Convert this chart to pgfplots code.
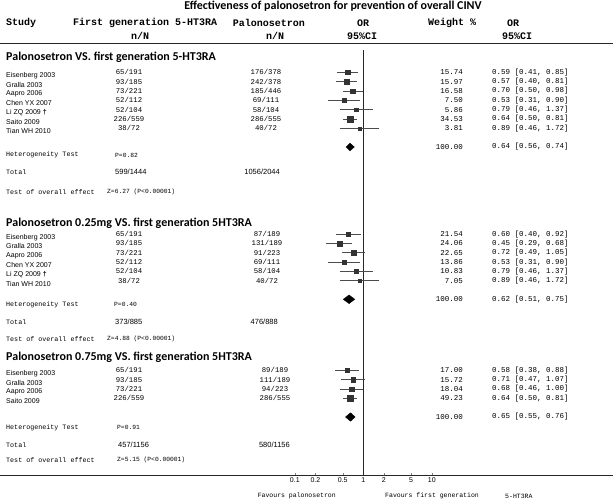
\documentclass[border=0pt]{standalone}
\usepackage{fontspec}
\setmainfont{Liberation Serif}
\setsansfont{Liberation Sans}
\setmonofont{Liberation Mono}
\newfontfamily\hdfont{Carlito}
\usepackage{graphicx}
\usepackage{pgfplots}
\pgfplotsset{compat=1.18}
\usepackage{pgfplotstable}

\pgfplotstableread{
y or lo hi w
72.3 0.59 0.41 0.85 15.74
81.7 0.57 0.40 0.81 15.97
91.0 0.70 0.50 0.98 16.58
100.3 0.53 0.31 0.90 7.50
109.7 0.79 0.46 1.37 5.86
119.0 0.64 0.50 0.81 34.53
128.3 0.89 0.46 1.72 3.81
}\secA
\pgfplotstableread{
y or lo hi w
234.3 0.60 0.40 0.92 21.54
243.3 0.45 0.29 0.68 24.06
252.7 0.72 0.49 1.05 22.65
262.3 0.53 0.31 0.90 13.86
271.3 0.79 0.46 1.37 10.83
280.7 0.89 0.46 1.72 7.05
}\secB
\pgfplotstableread{
y or lo hi w
370.3 0.58 0.38 0.88 17.00
379.7 0.71 0.47 1.07 15.72
389.0 0.68 0.46 1.00 18.04
398.3 0.64 0.50 0.81 49.23
}\secC

\pgfplotsset{
  study/.style={
    scatter, only marks, mark=square*,
    scatter/use mapped color={draw=black!80,fill=black!80},
    visualization depends on={\thisrow{w} \as \wt},
    scatter/@pre marker code/.append style={/tikz/mark size={1.0+0.3*sqrt(\wt)}},
    error bars/.cd, x dir=both, x explicit, error mark=none,
    error bar style={black!70, line width=0.7pt},
  },
}
\newcommand{\studyplot}[1]{%
  \addplot[study] table[x=or, y=y,
    x error plus expr=\thisrow{hi}-\thisrow{or},
    x error minus expr=\thisrow{or}-\thisrow{lo}] {#1};}

\begin{document}
\begin{tikzpicture}
\useasboundingbox (0,0) rectangle (613pt,502pt);
\begin{axis}[
  at={(0,27pt)}, anchor=south west,
  scale only axis, width=613pt, height=430pt,
  xmode=log, xmin=4.97e-6, xmax=4419,
  ymin=45, ymax=475, y dir=reverse,
  axis x line*=bottom, axis y line=none,
  x axis line style={-, line width=0.8pt, black!85},
  xtick={0.1,0.2,0.5,1,2,5,10},
  xticklabels={0.1,0.2,0.5,1,2,5,10},
  minor xtick={}, 
  tick align=inside, major tick length=2pt,
  xticklabel style={font=\sffamily\fontsize{7}{8}\selectfont, inner sep=1pt, yshift=-1.5pt},
  clip=false,
]
\addplot[black!85, line width=0.8pt] coordinates {(1,50) (1,475)};
\studyplot{\secA}
\studyplot{\secB}
\studyplot{\secC}
\addplot[fill=black, draw=black] coordinates {(0.56,147) (0.64,143.2) (0.74,147) (0.64,150.8)} -- cycle;
\addplot[fill=black, draw=black] coordinates {(0.51,299.3) (0.62,295) (0.75,299.3) (0.62,303.6)} -- cycle;
\addplot[fill=black, draw=black] coordinates {(0.55,417) (0.65,412.8) (0.76,417) (0.65,421.2)} -- cycle;
\end{axis}

\begin{scope}[x=1pt, y=-1pt, yshift=502pt,
  every node/.style={inner sep=0pt},
  ttl/.style={font=\hdfont\bfseries\fontsize{12}{13}\selectfont},
  sec/.style={font=\hdfont\bfseries\fontsize{12}{14}\selectfont, anchor=west},
  hd/.style={font=\ttfamily\bfseries\fontsize{10}{11}\selectfont},
  nm/.style={font=\sffamily\fontsize{7}{8}\selectfont, anchor=west},
  nn/.style={font=\ttfamily\fontsize{7.3}{8}\selectfont},
  wt/.style={font=\ttfamily\fontsize{7.5}{8}\selectfont, anchor=east},
  ci/.style={font=\ttfamily\fontsize{7.5}{8}\selectfont, anchor=west},
  lb/.style={font=\ttfamily\fontsize{6.7}{8}\selectfont, anchor=west},
  tt/.style={font=\sffamily\fontsize{7.5}{8}\selectfont},
  zz/.style={font=\ttfamily\fontsize{6.3}{8}\selectfont, anchor=west},
  fv/.style={font=\ttfamily\fontsize{6.5}{8}\selectfont},
]
% title
\node[ttl] at (333,6) {Effectiveness of palonosetron for prevention of overall CINV};
% header
\node[hd, anchor=west] at (6,23) {Study};
\node[hd, anchor=west] at (73,23) {First generation 5-HT3RA};
\node[hd] at (140,36) {n/N};
\node[hd] at (269,23) {Palonosetron};
\node[hd] at (275,36) {n/N};
\node[hd] at (363,23) {OR};
\node[hd] at (362,36) {95\%CI};
\node[hd, anchor=west] at (428,23) {Weight \%};
\node[hd] at (513,23) {OR};
\node[hd] at (517,36) {95\%CI};
\draw[line width=0.8pt, black!85] (0,43.3) -- (613,43.3);

% ---- section 1
\node[sec] at (6,57) {Palonosetron VS. first generation 5-HT3RA};
\foreach \yy/\nm/\a/\b/\w/\c in {
 72.3/Eisenberg 2003/65\slash191/176\slash378/15.74/{0.59 [0.41, 0.85]},
 81.7/Gralla 2003/93\slash185/242\slash378/15.97/{0.57 [0.40, 0.81]},
 91.0/Aapro 2006/73\slash221/185\slash446/16.58/{0.70 [0.50, 0.98]},
 100.3/Chen YX 2007/52\slash112/69\slash111/7.50/{0.53 [0.31, 0.90]},
 109.7/Li ZQ 2009 {\bfseries †}/52\slash104/58\slash104/5.86/{0.79 [0.46, 1.37]},
 119.0/Saito 2009/226\slash559/286\slash555/34.53/{0.64 [0.50, 0.81]},
 128.3/Tian WH 2010/38\slash72/40\slash72/3.81/{0.89 [0.46, 1.72]}}{
 \node[nm] at (6,\yy+3) {\nm};
 \node[nn] at (129,\yy) {\a};
 \node[nn] at (266,\yy) {\b};
 \node[wt] at (463,\yy) {\w};
 \node[ci] at (492,\yy) {\c};
}
\node[wt] at (463,147) {100.00};
\node[ci] at (492,147) {0.64 [0.56, 0.74]};
\node[lb] at (6,155) {Heterogeneity Test};
\node[zz] at (115,155) {P=0.82};
\node[lb] at (6,172) {Total};
\node[tt, anchor=west] at (115,172) {599/1444};
\node[tt, anchor=east] at (280,172) {1056/2044};
\node[lb] at (6,192) {Test of overall effect};
\node[zz] at (107,192) {Z=6.27 (P<0.00001)};

% ---- section 2
\node[sec] at (6,223) {Palonosetron 0.25mg VS. first generation 5HT3RA};
\foreach \yy/\nm/\a/\b/\w/\c in {
 234.3/Eisenberg 2003/65\slash191/87\slash189/21.54/{0.60 [0.40, 0.92]},
 243.3/Gralla 2003/93\slash185/131\slash189/24.06/{0.45 [0.29, 0.68]},
 252.7/Aapro 2006/73\slash221/91\slash223/22.65/{0.72 [0.49, 1.05]},
 262.3/Chen YX 2007/52\slash112/69\slash111/13.86/{0.53 [0.31, 0.90]},
 271.3/Li ZQ 2009 {\bfseries †}/52\slash104/58\slash104/10.83/{0.79 [0.46, 1.37]},
 280.7/Tian WH 2010/38\slash72/40\slash72/7.05/{0.89 [0.46, 1.72]}}{
 \node[nm] at (6,\yy+3) {\nm};
 \node[nn] at (129,\yy) {\a};
 \node[nn] at (267,\yy) {\b};
 \node[wt] at (463,\yy) {\w};
 \node[ci] at (492,\yy) {\c};
}
\node[wt] at (463,299.3) {100.00};
\node[ci] at (492,299.3) {0.62 [0.51, 0.75]};
\node[lb] at (6,304.3) {Heterogeneity Test};
\node[zz] at (114,304.3) {P=0.40};
\node[lb] at (6,321.7) {Total};
\node[tt, anchor=west] at (115,321.7) {373/885};
\node[tt, anchor=east] at (278,321.7) {476/888};
\node[lb] at (6,339.3) {Test of overall effect};
\node[zz] at (107,339.3) {Z=4.88 (P<0.00001)};

% ---- section 3
\node[sec] at (6,357) {Palonosetron 0.75mg VS. first generation 5HT3RA};
\foreach \yy/\nm/\a/\b/\w/\c in {
 370.3/Eisenberg 2003/65\slash191/89\slash189/17.00/{0.58 [0.38, 0.88]},
 379.7/Gralla 2003/93\slash185/111\slash189/15.72/{0.71 [0.47, 1.07]},
 389.0/Aapro 2006/73\slash221/94\slash223/18.04/{0.68 [0.46, 1.00]},
 398.3/Saito 2009/226\slash559/286\slash555/49.23/{0.64 [0.50, 0.81]}}{
 \node[nm] at (6,\yy+3) {\nm};
 \node[nn] at (129,\yy) {\a};
 \node[nn] at (275,\yy) {\b};
 \node[wt] at (463,\yy) {\w};
 \node[ci] at (492,\yy) {\c};
}
\node[wt] at (463,417) {100.00};
\node[ci] at (492,417) {0.65 [0.55, 0.76]};
\node[lb] at (6,427.7) {Heterogeneity Test};
\node[zz] at (117,427.7) {P=0.91};
\node[lb] at (6,445) {Total};
\node[tt, anchor=west] at (118,445) {457/1156};
\node[tt, anchor=east] at (290,445) {580/1156};
\node[lb] at (6,460) {Test of overall effect};
\node[zz] at (117,460) {Z=5.15 (P<0.00001)};

% favours
\node[fv, anchor=east] at (336,496) {Favours palonosetron};
\node[fv, anchor=west] at (385,496) {Favours first generation};
\node[fv, anchor=west] at (505,496) {5-HT3RA};
\end{scope}
\end{tikzpicture}
\end{document}
